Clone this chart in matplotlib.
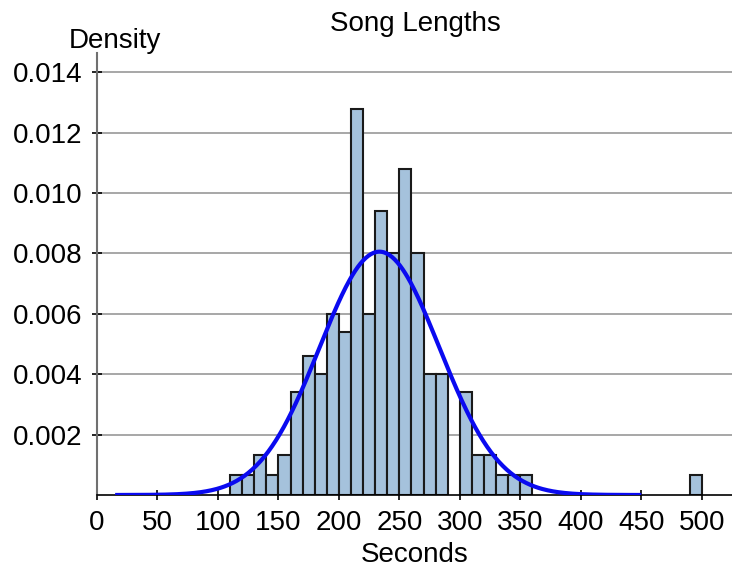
import matplotlib
matplotlib.use("Agg")
import matplotlib.pyplot as plt
import numpy as np

plt.rcParams['font.family'] = ['Liberation Sans', 'DejaVu Sans']

# histogram bins (left edges, width 10 s) and density heights
bin_left = [110, 120, 130, 140, 150, 160, 170, 180, 190, 200, 210, 220, 230,
            240, 250, 260, 270, 280, 300, 310, 320, 330, 340, 350, 490]
density = [0.00066, 0.00066, 0.00132, 0.00066, 0.00132, 0.0034, 0.0046, 0.0040,
           0.0060, 0.0054, 0.0128, 0.0060, 0.0094, 0.0080, 0.0108, 0.0080,
           0.0040, 0.0040, 0.0034, 0.00132, 0.00132, 0.00066, 0.00066, 0.00066,
           0.00066]
bin_width = 10

# fitted normal curve
mu = 233.5
sigma = 49.5
curve_start, curve_end = 15, 450

xticks = [0, 50, 100, 150, 200, 250, 300, 350, 400, 450, 500]
yticks = [0.002, 0.004, 0.006, 0.008, 0.010, 0.012, 0.014]

fig = plt.figure(figsize=(7.32, 5.68), dpi=100)
ax = fig.add_axes([97/732, 73/568, 635/732, 442/568])

ax.set_axisbelow(True)
for yv in yticks:
    ax.axhline(yv, color='#a0a0a0', lw=1.3, zorder=0)

ax.bar(bin_left, density, width=bin_width, align='edge', color='#a5c2dc',
       edgecolor='#1a1a1a', linewidth=1.5, zorder=2)

xs = np.linspace(curve_start, curve_end, 400)
pdf = np.exp(-0.5 * ((xs - mu) / sigma) ** 2) / (sigma * np.sqrt(2 * np.pi))
ax.plot(xs, pdf, color='#0a0af0', lw=3, solid_capstyle='butt', zorder=3)

ax.set_xlim(0, 525)
ax.set_ylim(0, 0.01464)
ax.set_xticks(xticks)
ax.set_xticklabels([str(v) for v in xticks])
ax.set_yticks(yticks)
ax.set_yticklabels([f"{v:.3f}" for v in yticks])

for s in ['top', 'right']:
    ax.spines[s].set_visible(False)
ax.spines['left'].set_color('#707070')
ax.spines['left'].set_linewidth(1.5)
ax.spines['bottom'].set_color('black')
ax.spines['bottom'].set_linewidth(1.2)

ax.tick_params(axis='both', direction='inout', length=7, width=1.2,
               labelsize=20, pad=7)
ax.tick_params(axis='y', colors='black')

fig.text(415/732, 1 - 31/568, "Song Lengths", ha='center', va='baseline', fontsize=20)
fig.text(114.5/732, 1 - 48/568, "Density", ha='center', va='baseline', fontsize=20)
fig.text(414.5/732, 1 - 562/568, "Seconds", ha='center', va='baseline', fontsize=20)

fig.savefig("out.png", dpi=100)
